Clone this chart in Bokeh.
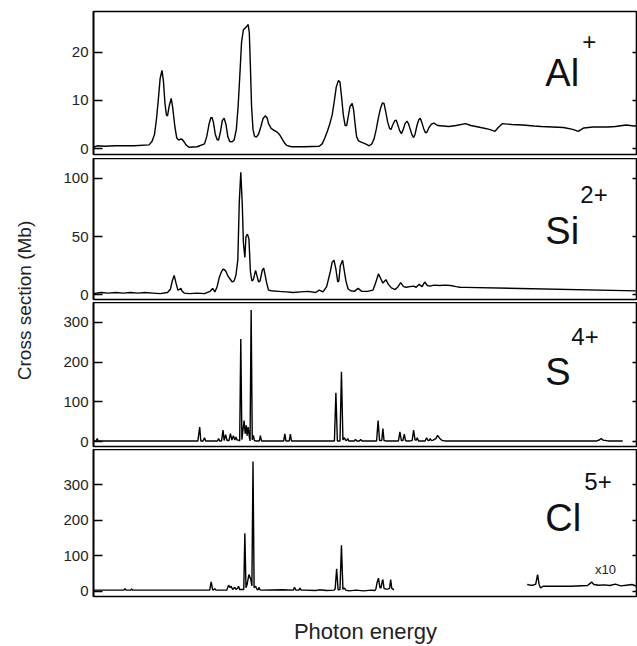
from bokeh.plotting import figure
from bokeh.layouts import column, row
from bokeh.models import Range1d, FixedTicker, LinearAxis, Label, Spacer, CustomLabelingPolicy
from bokeh.embed import file_html
from bokeh.resources import INLINE

# ---------------- data (x in arbitrary photon-energy units) ----------------
al_x = [90, 100, 120, 150, 200, 240, 248, 255, 260, 265, 270, 275, 279, 283, 287,
        290, 295, 300, 304, 310, 315, 320, 325, 330, 334, 340, 348, 370,
        390, 396, 402, 407, 410, 414, 419, 424, 428, 433, 438, 443, 448, 453, 458, 464,
        470, 476, 481, 486, 490, 495, 500, 505, 508, 511, 514, 517, 521, 525, 530,
        536, 542, 548, 554, 559, 563, 570, 578, 585, 592, 600, 606, 612, 625, 660,
        700, 708, 715, 722, 728, 735, 741, 746, 752, 756, 760, 765, 770, 774, 778,
        783, 789, 793, 797, 801, 806, 815, 825, 835, 842, 848, 854, 860, 866, 871,
        875, 880, 885, 890, 894, 899, 904, 908, 912, 917, 922, 927, 932, 937, 941,
        946, 951, 955, 959, 964, 969, 973, 977, 982, 987, 991, 996, 1003, 1010,
        1020, 1050, 1070, 1095, 1110, 1130, 1160, 1175, 1185, 1195,
        1220, 1250, 1280, 1300, 1330, 1360, 1385, 1400, 1415, 1440,
        1480, 1500, 1530, 1550, 1568]
al_y = [0.3, 0.6, 0.5, 0.6, 0.6, 0.8, 1.5, 3, 6, 10, 14.5, 16.2, 14, 9.5, 7,
        6.8, 9, 10.4, 8.5, 4.5, 2.2, 1.8, 2.0, 1.9, 1.5, 0.8, 0.3, 0.4,
        1.0, 2.5, 5, 6.4, 6.5, 5.5, 3, 1.9, 1.8, 3.5, 5.8, 6.3, 5, 2.5, 1.5, 1.4,
        1.8, 4, 9, 16, 22, 24.6, 25, 25.4, 25.7, 24, 17, 9, 4, 2.6, 2.4,
        3, 4.5, 6.2, 6.8, 6.4, 5.2, 4.2, 3.8, 3.5, 3.0, 2, 1.2, 0.7, 0.4, 0.4,
        0.5, 1, 2.2, 3.6, 5, 7, 10, 12.8, 14.1, 13.8, 11, 7, 4.8, 4.8, 6.5,
        8.7, 9.4, 8, 5, 2.5, 1.6, 1.3, 1.0, 0.6, 1, 2, 4, 6.5, 8.5, 9.5,
        9.4, 7.5, 5.5, 4.2, 4, 5, 5.8, 5.9, 5, 3.8, 3.1, 4, 5.2, 5.7, 5.2,
        4, 2.8, 2.3, 3, 4.8, 6, 6.3, 5.5, 4.2, 3.3, 3.4, 4.3, 5.1, 5.3,
        4.8, 4.6, 4.8, 5.2, 4.8, 4.5, 4.0, 3.6, 4.5, 5.2,
        5.0, 4.9, 4.7, 4.6, 4.5, 4.4, 4.0, 3.6, 4.3, 4.5,
        4.5, 4.6, 4.9, 4.7, 4.8]

si_x = [90, 110, 130, 150, 170, 190, 210, 230, 250, 270,
        290, 298, 303, 308, 313, 318, 322, 326, 330, 335,
        350, 370, 390, 405, 412, 418, 424, 430, 436, 440,
        444, 448, 452, 458, 465, 470, 475, 480, 484, 488,
        492, 495, 499, 502, 506, 510, 514, 518, 522, 528,
        532, 536, 540, 546, 550, 555, 558, 563, 570, 590,
        610, 630, 650, 670, 690, 700, 710, 720, 730, 735,
        740, 745, 750, 753, 757, 763, 768, 772, 778, 785,
        795, 805, 815, 830, 845, 852, 860, 866, 872, 880,
        887, 895, 905, 913, 920, 928, 935, 945, 955, 962,
        970, 978, 985, 992, 1000, 1010, 1025, 1040, 1055, 1070,
        1080, 1095, 1568]
si_y = [1, 2, 1.5, 2, 1.5, 2, 1.5, 2, 1.5, 1,
        2, 5, 12, 16.7, 10, 4, 4.5, 5.5, 3, 1.5,
        1, 1.5, 1, 3, 5.5, 2.5, 7, 15, 20, 22,
        21.5, 20, 17, 14, 11, 12, 17, 30, 80, 105,
        78, 45, 32, 50, 52, 48, 20, 12, 13, 21,
        16, 11, 12, 21, 23, 15, 10, 4, 3.5, 3,
        2.5, 2, 2.5, 3, 2, 4, 2.5, 7, 20, 28,
        29.7, 22, 11, 12, 25, 29.7, 20, 12, 5, 3.5,
        3, 5.5, 3, 3, 4, 10, 18, 14, 10, 13,
        9, 6, 4.5, 7, 10.5, 7, 6.5, 7, 7.5, 6.5,
        9, 7, 11, 8, 7.5, 8.3, 8, 8.3, 8, 7,
        6.5, 6.4, 3.3]

s_x = [90, 97, 100, 103,
       372, 377, 380, 386, 390, 393,
       425, 428, 431, 436, 440, 443, 447, 451, 456, 460, 464, 468, 472, 475, 478, 482,
       485, 488, 491, 494, 497, 500, 503, 505, 508, 511, 513, 516, 519, 522, 525, 528,
       538, 541, 544, 604, 607, 610, 619, 622, 625,
       741, 745, 749, 756, 760, 764, 768, 771, 774, 777, 780, 795, 798, 801, 809, 812, 815,
       855, 859, 863, 869, 872, 875, 880,
       914, 918, 922, 926, 930, 933, 936, 945, 951, 955, 959, 962, 965, 968, 975,
       986, 990, 994, 997, 1000, 1003, 1008, 1015, 1020, 1026, 1032, 1040,
       1450, 1458, 1462, 1467, 1480, 1520]
s_y = [2, 2, 8, 2,
       2, 37, 2, 2, 10, 2,
       2, 8, 2, 2, 29, 3, 18, 3, 3, 20, 4, 15, 4, 12, 4, 4,
       2, 258, 5, 30, 53, 20, 41, 15, 37, 12, 2, 331, 5, 16, 3, 2,
       2, 15, 2, 2, 20, 2, 2, 19, 2,
       2, 123, 2, 2, 176, 5, 10, 4, 3, 8, 2, 2, 6, 2, 2, 6, 2,
       2, 53, 3, 3, 33, 3, 2,
       2, 25, 3, 3, 19, 3, 2, 2, 3, 29, 4, 4, 10, 2, 2,
       2, 10, 3, 3, 8, 3, 4, 8, 16, 8, 3, 2,
       2, 5, 8, 4, 2, 2]

cl_x = [90, 172, 175, 178, 190, 193, 196,
        404, 408, 412, 415, 418, 421, 450, 455, 459, 462, 466, 472, 475, 479, 482, 485, 489,
        496, 499, 502, 505, 510, 515, 518, 521, 524, 528, 532, 535, 537, 540, 545,
        600, 630, 633, 637, 645, 648, 651, 660, 690, 700, 720, 740, 743, 747, 751, 756, 760, 764, 768, 772,
        780, 800, 820, 840, 850, 853, 856, 860, 864, 867, 870, 872, 875, 880, 885, 890, 893, 896, 902]
cl_y = [3, 3, 7, 3, 3, 6, 3,
        3, 26, 4, 4, 7, 3, 3, 17, 10, 14, 5, 11, 5, 8, 14, 5, 5,
        5, 163, 10, 19, 47, 33, 15, 365, 10, 14, 5, 4, 11, 4, 3,
        4, 3, 11, 3, 3, 9, 3, 3, 2, 4, 2, 3, 6, 63, 4, 5, 129, 6, 9, 3,
        1, 3, 1, 3, 2, 6, 23, 37, 10, 10, 28, 33, 8, 6, 6, 8, 33, 8, 4]

cl10_x = [1262, 1270, 1278, 1285, 1290, 1294, 1298, 1305, 1320, 1380, 1425, 1432,
          1436, 1442, 1455, 1470, 1485, 1500, 1515, 1530, 1545, 1558, 1568]
cl10_y = [19, 17, 17, 20, 47, 20, 9, 14, 14, 14, 16, 22,
          26, 19, 17, 18, 16, 20, 15, 17, 19, 14, 17]

al_ticks = [0, 10, 20]
si_ticks = [0, 50, 100]
s_ticks = [0, 100, 200, 300]
cl_ticks = [0, 100, 200, 300]

ions = ["Al", "Si", "S", "Cl"]
charges = ["+", "2+", "4+", "5+"]

FONT = "Liberation Sans"
X_RANGE = Range1d(90, 1560)
SPACER = 10
YLAB_W = 34
LEFT = 49


def panel(xs, ys, y0, y1, ticks, height, top=0, bottom=0, xlabel=None):
    p = figure(width=637 - SPACER - YLAB_W, height=height, x_range=X_RANGE,
               y_range=Range1d(y0, y1),
               toolbar_location=None, output_backend="svg",
               x_axis_location="below" if xlabel else None,
               min_border=0, min_border_left=LEFT, min_border_right=0,
               min_border_top=top, min_border_bottom=bottom)
    p.line(xs, ys, line_color="black", line_width=1.4)
    p.grid.visible = False
    p.outline_line_color = "black"
    p.outline_line_width = 1.6
    ax = p.yaxis[0]
    ax.ticker = FixedTicker(ticks=ticks)
    ax.major_tick_in = 9
    ax.major_tick_out = 0
    ax.minor_tick_in = 0
    ax.minor_tick_out = 0
    ax.axis_line_width = 1.6
    ax.major_tick_line_width = 1.3
    ax.major_label_text_font = FONT
    ax.major_label_text_font_size = "15px"
    ax.major_label_text_color = "#222222"
    ax.major_label_standoff = 5
    rax = LinearAxis(ticker=FixedTicker(ticks=ticks), major_label_text_font_size="0px",
                     major_tick_in=5, major_tick_out=0, minor_tick_in=0, minor_tick_out=0,
                     major_label_standoff=0, axis_line_color=None, major_tick_line_width=1.3,
                     major_label_policy=CustomLabelingPolicy(
                         code="for (const i of indices) { indices.unset(i) } return indices"))
    p.add_layout(rax, "right")
    if xlabel:
        xa = p.xaxis[0]
        xa.ticker = FixedTicker(ticks=[])
        xa.major_tick_out = 0
        xa.major_tick_in = 0
        xa.minor_tick_out = 0
        xa.minor_tick_in = 0
        xa.major_label_text_font_size = "0px"
        xa.major_label_standoff = 0
        xa.axis_line_color = None
        xa.axis_label = xlabel
        xa.axis_label_text_font = FONT
        xa.axis_label_text_font_style = "normal"
        xa.axis_label_text_font_size = "22px"
        xa.axis_label_text_color = "#222222"
        xa.axis_label_standoff = 22
    return p


SUP_X = {"Al": 37, "Si": 35, "S": 26, "Cl": 39}
SUP_Y = {"Al": 31, "Si": 36, "S": 36, "Cl": 36}


def ion_label(p, ion, charge, x, y):
    p.add_layout(Label(x=x, y=y, text=ion, text_font=FONT, text_font_size="38px",
                       text_color="#111111", text_baseline="alphabetic"))
    p.add_layout(Label(x=x, y=y, x_offset=SUP_X[ion], y_offset=SUP_Y[ion], text=charge,
                       text_font=FONT, text_font_size="24px", text_color="#111111",
                       text_baseline="alphabetic"))


p1 = panel(al_x, al_y, -1.2, 28.4, al_ticks, 158, top=11, bottom=4)
p2 = panel(si_x, si_y, -4, 116.9, si_ticks, 144, bottom=3)
p3 = panel(s_x, s_y, -12, 350, s_ticks, 147, bottom=3)
p4 = panel(cl_x, cl_y, -14.8, 398.6, cl_ticks, 197, bottom=49, xlabel="Photon energy")
p4.line(cl10_x, cl10_y, line_color="black", line_width=1.4)
p4.add_layout(Label(x=1445, y=40, text="x10", text_font=FONT, text_font_size="13px",
                    text_color="#222222"))

ion_label(p1, ions[0], charges[0], 1311, 15.7)
ion_label(p2, ions[1], charges[1], 1311, 55)
ion_label(p3, ions[2], charges[2], 1311, 175)
ion_label(p4, ions[3], charges[3], 1311, 207)

ylab = figure(width=YLAB_W, height=646, toolbar_location=None, output_backend="svg",
              x_axis_location=None, y_axis_location=None, title="Cross section (Mb)",
              title_location="left", min_border=0, min_border_top=0, min_border_bottom=46)
ylab.outline_line_color = None
ylab.grid.visible = False
ylab.title.text_font = FONT
ylab.title.text_font_style = "normal"
ylab.title.text_font_size = "19px"
ylab.title.text_color = "#222222"
ylab.title.align = "center"
ylab.title.standoff = 2

layout = row(Spacer(width=SPACER, height=646), ylab, column(p1, p2, p3, p4))

open("out.html", "w").write(file_html(layout, INLINE))
